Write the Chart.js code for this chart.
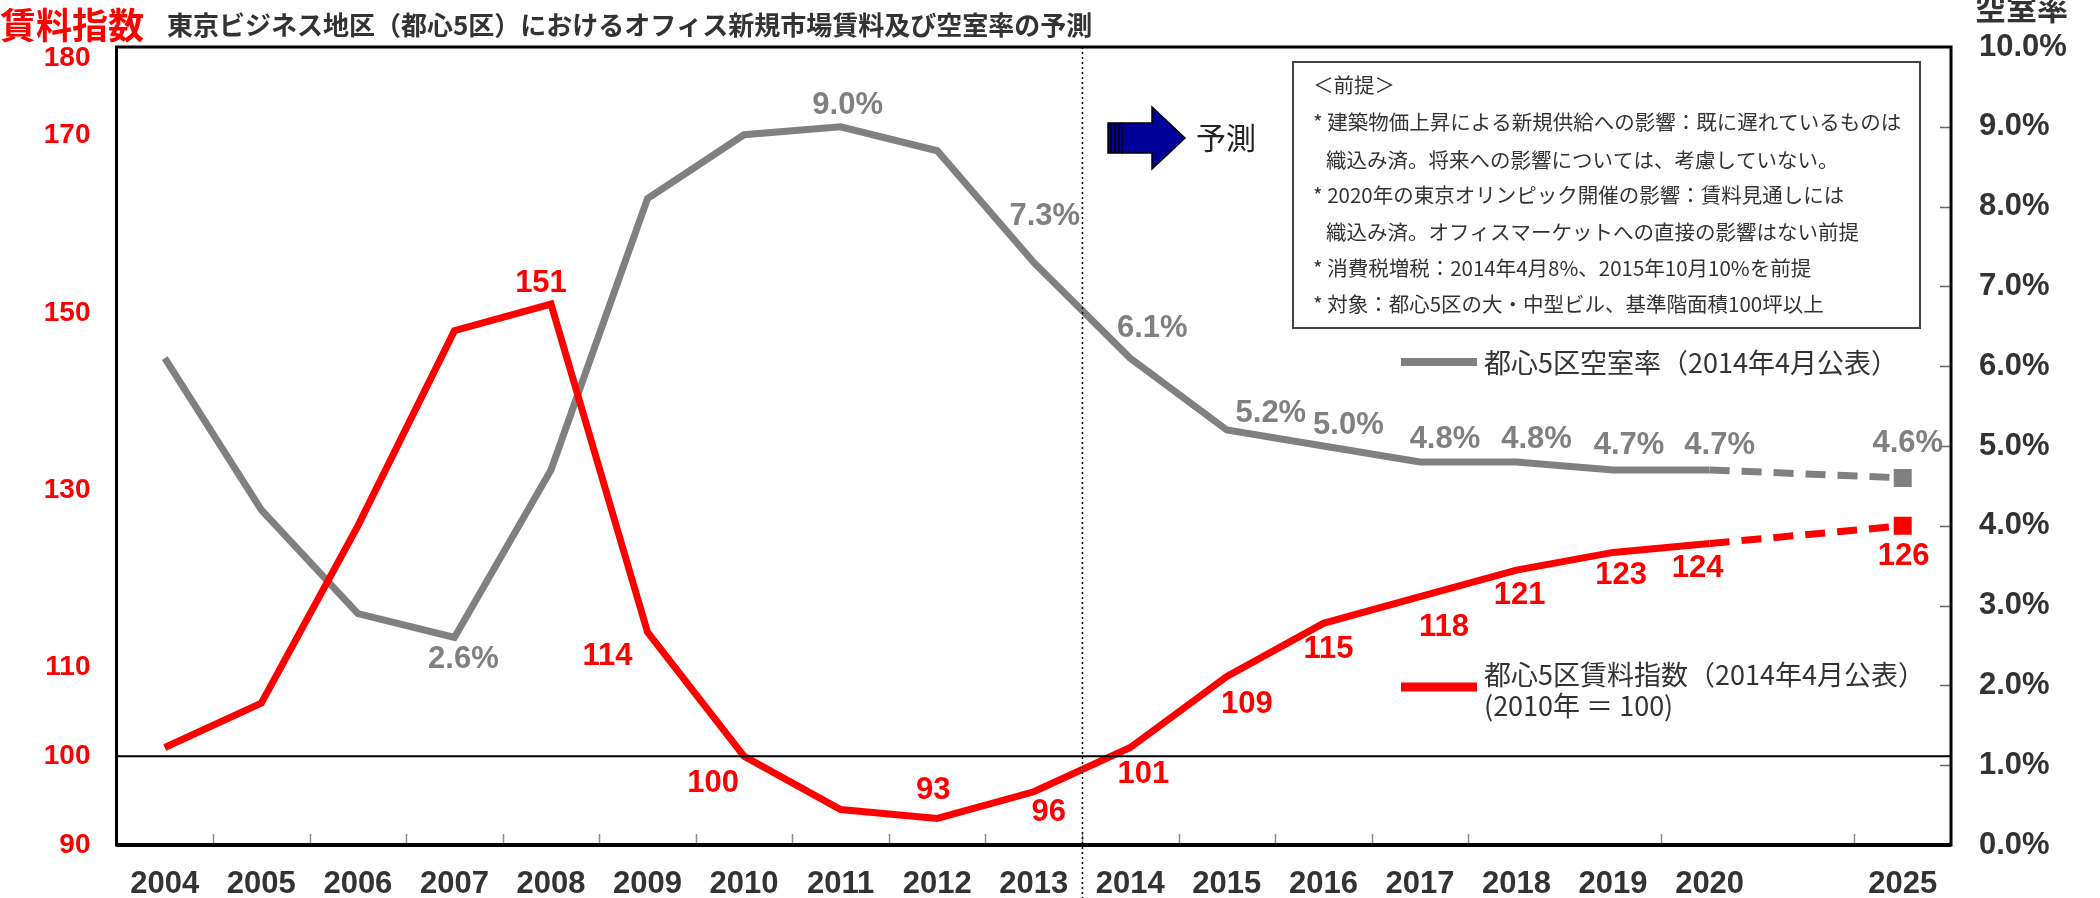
<!DOCTYPE html>
<html><head><meta charset="utf-8">
<script src="https://cdn.jsdelivr.net/npm/chart.js@4.4.1/dist/chart.umd.min.js"></script>
<style>html,body{margin:0;padding:0;background:#fff;overflow:hidden}</style>
</head><body>
<canvas id="c" width="2100" height="898"></canvas>
<script>
// ---- data ----
const years = ['2004','2005','2006','2007','2008','2009','2010','2011','2012','2013','2014','2015','2016','2017','2018','2019','2020','','2025'];
const rentIndex   = [101, 106, 126, 148, 151, 114, 100, 94, 93, 96, 101, 109, 115, 118, 121, 123, 124, null, 126];
const vacancyRate = [6.1, 4.2, 2.9, 2.6, 4.7, 8.1, 8.9, 9.0, 8.7, 7.3, 6.1, 5.2, 5.0, 4.8, 4.8, 4.7, 4.7, null, 4.6];
const leftTicks  = [90, 100, 110, 130, 150, 170, 180];
const rightTicks = [0, 1, 2, 3, 4, 5, 6, 7, 8, 9, 10];
const rentSeriesName = ['都心5区賃料指数（2014年4月公表）', '(2010年 ＝ 100)'];
const vacancySeriesName = '都心5区空室率（2014年4月公表）';
const leftTitle = '賃料指数';
const mainTitle = '東京ビジネス地区（都心5区）におけるオフィス新規市場賃料及び空室率の予測';
const rightTitle = '空室率';
const forecastText = '予測';
const notes = [
  '＜前提＞',
  '* 建築物価上昇による新規供給への影響：既に遅れているものは',
  '織込み済。将来への影響については、考慮していない。',
  '* 2020年の東京オリンピック開催の影響：賃料見通しには',
  '織込み済。オフィスマーケットへの直接の影響はない前提',
  '* 消費税増税：2014年4月8%、2015年10月10%を前提',
  '* 対象：都心5区の大・中型ビル、基準階面積100坪以上'
];

// ---- label placement (pixel offsets from points) ----
const rentLabelOffsets = {4:[-10,-21],5:[-40,24],6:[-31,27],8:[-4,-28],9:[15,21],10:[13,27],11:[20,28],12:[5,26],13:[24,31],14:[3,25],15:[8,23],16:[-12,25],18:[1,31]};
const vacLabelOffsets  = {3:[9,22],7:[7,-21],9:[11,-46],10:[22,-30],11:[44,-17],12:[25,-21],13:[25,-23],14:[20,-23],15:[16,-24],16:[10,-24],18:[5,-34]};

const RED = '#FF0000', GRAY = '#808080', DARK = '#333333';
const NUMFONT = 'Liberation Sans, Arial, sans-serif';
const JPFONT = '"Noto Sans CJK JP", sans-serif';
const lastIdx = years.length - 1;

const decor = {
  id: 'decor',
  afterDatasetsDraw(chart) {
    const ctx = chart.ctx, a = chart.chartArea, yL = chart.scales.yL, yR = chart.scales.yR;
    ctx.save();
    const step = (a.right - a.left) / years.length;
    // x tick marks (inside, from bottom)
    ctx.strokeStyle = '#8c8c8c'; ctx.lineWidth = 1.5;
    for (let i = 1; i < years.length; i++) {
      if (i === 15 || i === 17) continue;
      const xx = Math.round(a.left + step * i) + 0.5;
      ctx.beginPath(); ctx.moveTo(xx, a.bottom); ctx.lineTo(xx, a.bottom - 11); ctx.stroke();
    }
    // right axis inner ticks
    ctx.strokeStyle = '#666'; ctx.lineWidth = 1.5;
    rightTicks.forEach(v => {
      if (v === 0 || v === 10) return;
      const yy = Math.round(yR.getPixelForValue(v)) + 0.5;
      ctx.beginPath(); ctx.moveTo(a.right, yy); ctx.lineTo(a.right - 11, yy); ctx.stroke();
    });
    // baseline at 100
    const y100 = yL.getPixelForValue(100);
    ctx.strokeStyle = '#000'; ctx.lineWidth = 2;
    ctx.beginPath(); ctx.moveTo(a.left, y100); ctx.lineTo(a.right, y100); ctx.stroke();
    // forecast divider
    const xd = Math.round(a.left + step * 10) + 0.5;
    ctx.setLineDash([2, 3]); ctx.lineWidth = 1.5;
    ctx.beginPath(); ctx.moveTo(xd, a.top); ctx.lineTo(xd, chart.height); ctx.stroke();
    ctx.setLineDash([]);
    // frame
    ctx.lineWidth = 3; ctx.strokeStyle = '#000';
    ctx.strokeRect(a.left, a.top, a.right - a.left, a.bottom - a.top);
    ctx.lineWidth = 4;
    ctx.beginPath(); ctx.moveTo(a.left, a.bottom); ctx.lineTo(a.right, a.bottom); ctx.stroke();

    // left axis labels (top one kept inside the frame height)
    ctx.textAlign = 'right'; ctx.textBaseline = 'middle';
    ctx.fillStyle = RED; ctx.font = 'bold 28px ' + NUMFONT;
    yL.ticks.forEach(t => {
      const yy = Math.max(yL.getPixelForValue(t.value), a.top + 11);
      ctx.fillText(String(t.value), a.left - 26, yy);
    });

    // data labels
    ctx.textAlign = 'center'; ctx.textBaseline = 'middle';
    ctx.font = 'bold 31px ' + NUMFONT;
    const m0 = chart.getDatasetMeta(0), m1 = chart.getDatasetMeta(1);
    ctx.fillStyle = RED;
    Object.keys(rentLabelOffsets).forEach(k => {
      const p = m0.data[k], o = rentLabelOffsets[k];
      ctx.fillText(String(rentIndex[k]), p.x + o[0], p.y + o[1]);
    });
    ctx.fillStyle = GRAY;
    Object.keys(vacLabelOffsets).forEach(k => {
      const p = m1.data[k], o = vacLabelOffsets[k];
      ctx.fillText(vacancyRate[k].toFixed(1) + '%', p.x + o[0], p.y + o[1]);
    });

    // notes box
    ctx.fillStyle = '#fff'; ctx.fillRect(1293, 62, 627, 266);
    ctx.strokeStyle = '#444'; ctx.lineWidth = 2; ctx.strokeRect(1293, 62, 627, 266);
    ctx.fillStyle = DARK; ctx.textAlign = 'left';
    ctx.font = '20.5px ' + JPFONT;
    const ny = [85, 122, 160, 195, 232, 268, 304];
    notes.forEach((t, i) => {
      const indent = (i === 2 || i === 4) ? 1326 : 1313;
      ctx.fillText(t, indent, ny[i]);
    });

    // legends
    ctx.lineWidth = 8; ctx.strokeStyle = GRAY;
    ctx.beginPath(); ctx.moveTo(1401, 362); ctx.lineTo(1477, 362); ctx.stroke();
    ctx.lineWidth = 9; ctx.strokeStyle = RED;
    ctx.beginPath(); ctx.moveTo(1401, 687); ctx.lineTo(1477, 687); ctx.stroke();
    ctx.fillStyle = DARK; ctx.font = '27px ' + JPFONT;
    ctx.fillText(vacancySeriesName, 1484, 363);
    ctx.fillText(rentSeriesName[0], 1484, 675);
    ctx.fillText(rentSeriesName[1], 1484, 706);

    // forecast arrow
    ctx.fillStyle = '#000099'; ctx.strokeStyle = '#000'; ctx.lineWidth = 1.5;
    ctx.fillRect(1108, 123, 14, 30);
    ctx.strokeRect(1108, 123, 14, 30);
    [1111, 1115, 1119].forEach(sx => { ctx.beginPath(); ctx.moveTo(sx, 123); ctx.lineTo(sx, 153); ctx.stroke(); });
    ctx.beginPath();
    ctx.moveTo(1122, 123); ctx.lineTo(1152, 123); ctx.lineTo(1152, 107); ctx.lineTo(1185, 138);
    ctx.lineTo(1152, 169); ctx.lineTo(1152, 153); ctx.lineTo(1122, 153); ctx.closePath();
    ctx.fill(); ctx.stroke();
    ctx.fillStyle = '#222'; ctx.font = '30px ' + JPFONT;
    ctx.fillText(forecastText, 1196, 138);

    // titles
    ctx.fillStyle = RED; ctx.font = 'bold 36px ' + JPFONT;
    ctx.fillText(leftTitle, 0, 25);
    ctx.fillStyle = DARK; ctx.font = 'bold 26px ' + JPFONT;
    ctx.fillText(mainTitle, 167, 25);
    ctx.font = 'bold 31px ' + JPFONT;
    ctx.fillText(rightTitle, 1975, 8);
    ctx.restore();
  }
};

const dashLast = c => (c.p1DataIndex === lastIdx ? [20, 12] : undefined);
const markLast = (r) => years.map((_, i) => i === lastIdx ? r : 0);

new Chart(document.getElementById('c'), {
  type: 'line',
  data: {
    labels: years,
    datasets: [
      { label: rentSeriesName[0], data: rentIndex, yAxisID: 'yL', borderColor: RED, backgroundColor: RED,
        borderWidth: 7, spanGaps: true, tension: 0, pointStyle: 'rect', pointRadius: markLast(12.7),
        pointHoverRadius: 0, pointBorderWidth: 0, segment: { borderDash: dashLast } },
      { label: vacancySeriesName, data: vacancyRate, yAxisID: 'yR', borderColor: GRAY, backgroundColor: GRAY,
        borderWidth: 7, spanGaps: true, tension: 0, pointStyle: 'rect', pointRadius: markLast(12.7),
        pointHoverRadius: 0, pointBorderWidth: 0, segment: { borderDash: dashLast } }
    ]
  },
  options: {
    responsive: false, animation: false, devicePixelRatio: 1,
    layout: { padding: { top: 47, left: 0, right: 0, bottom: 0 } },
    plugins: { legend: { display: false }, tooltip: { enabled: false }, title: { display: false } },
    scales: {
      x: { type: 'category', offset: true, grid: { display: false, drawTicks: false }, border: { display: false },
        ticks: { color: DARK, font: { family: NUMFONT, size: 31, weight: 'bold' }, padding: 21, maxRotation: 0, autoSkip: false },
        afterFit: s => { s.height = 53; } },
      yL: { position: 'left', min: 90, max: 180, grid: { display: false, drawTicks: false }, border: { display: false },
        afterBuildTicks: s => { s.ticks = leftTicks.map(v => ({ value: v })); },
        ticks: { display: false },
        afterFit: s => { s.width = 116.5; } },
      yR: { position: 'right', min: 0, max: 10, grid: { display: false, drawTicks: false }, border: { display: false },
        afterBuildTicks: s => { s.ticks = rightTicks.map(v => ({ value: v })); },
        ticks: { color: DARK, font: { family: NUMFONT, size: 31, weight: 'bold' }, padding: 28,
          callback: v => Number(v).toFixed(1) + '%' },
        afterFit: s => { s.width = 149; } }
    }
  },
  plugins: [decor]
});
</script>
</body></html>
